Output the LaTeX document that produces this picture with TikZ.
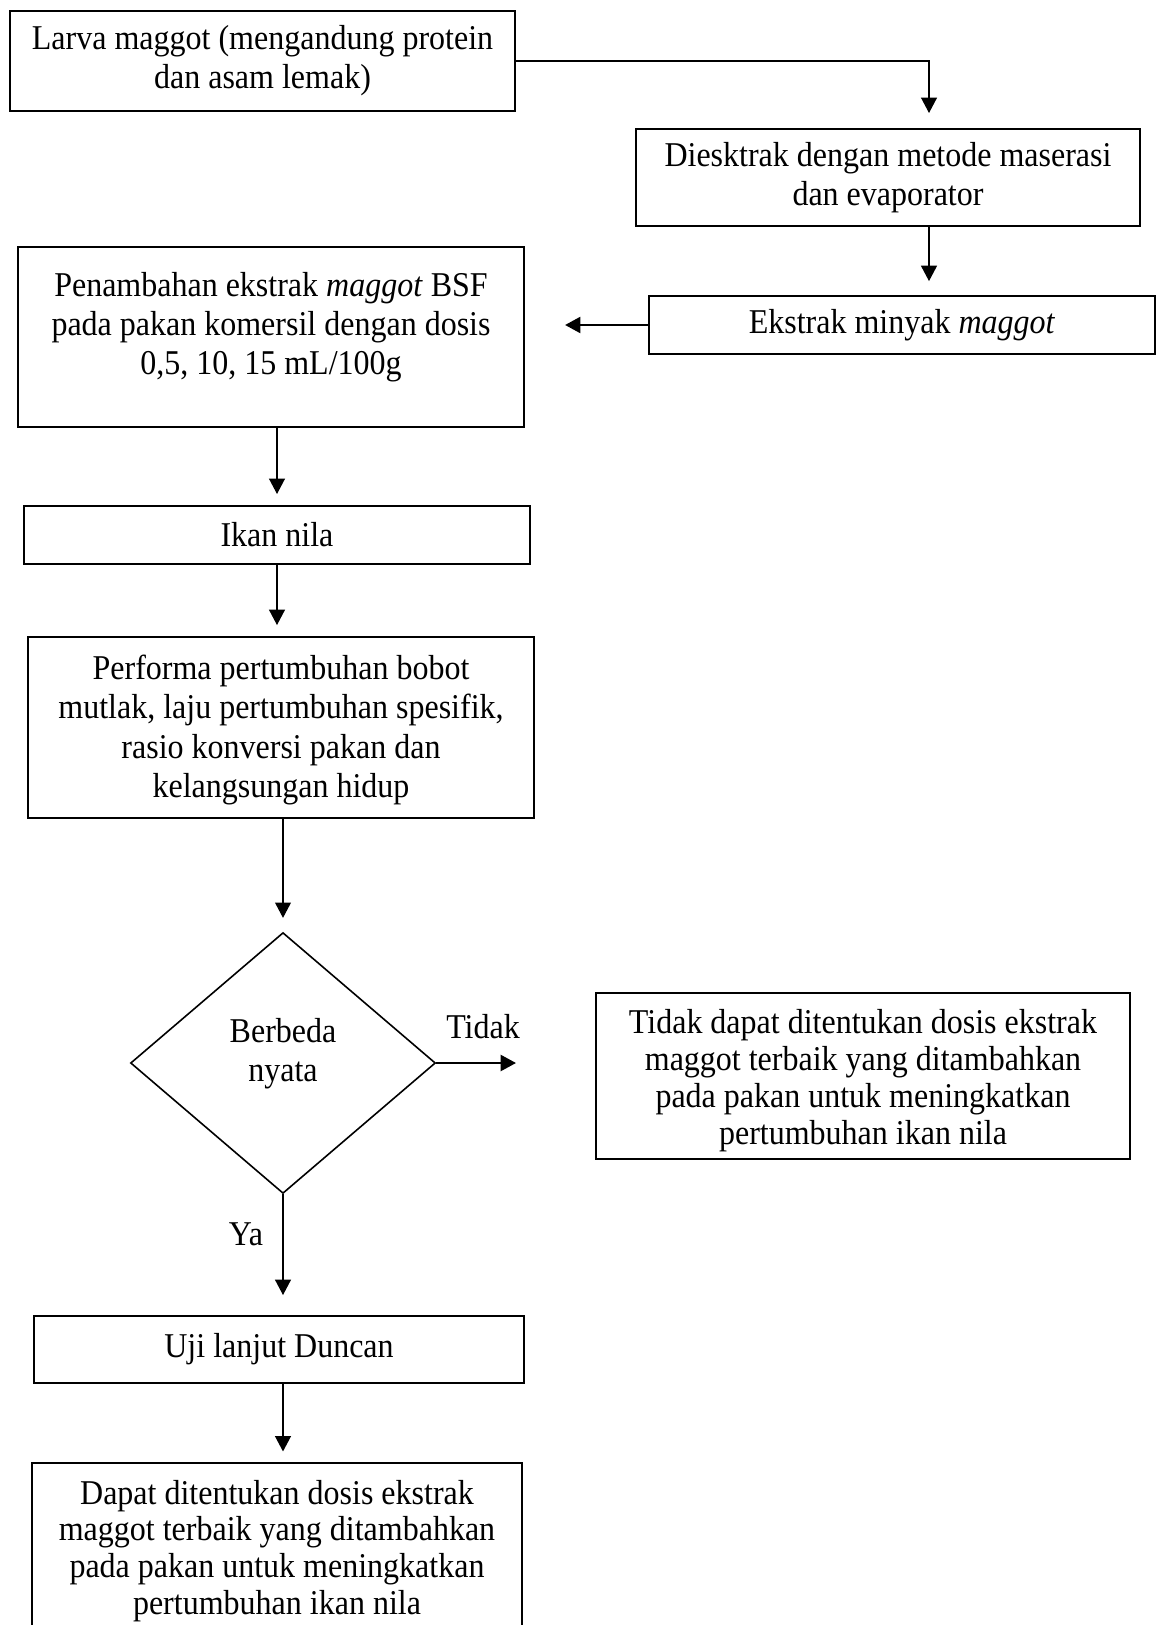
\documentclass[tikz,border=0pt]{standalone}
\usepackage{fontspec}
\setmainfont{Liberation Serif}[FakeStretch=0.92]
\usetikzlibrary{shapes.geometric,arrows.meta}
\begin{document}
\begin{tikzpicture}[x=0.345pt,y=-0.345pt,>={Triangle[length=5.3pt,width=5.5pt]},
    font=\fontsize{12pt}{13.5pt}\selectfont,
    box/.style={draw,line width=0.7pt,inner sep=0pt,align=center},
    dec/.style={draw,diamond,line width=0.55pt,inner sep=0pt,align=center,minimum width=105.2pt,minimum height=90pt},
    arr/.style={->,line width=0.4pt},
    arrthick/.style={->,line width=0.9pt}]
    \useasboundingbox (0,0) rectangle (1156,1625);
    \clip (0,0) rectangle (1156,1625);
    % boxes
    \node[box,minimum width=174.2pt,minimum height=34.5pt] (larva) at (262.5,61) {Larva maggot (mengandung protein\\dan asam lemak)};
    \node[box,minimum width=173.9pt,minimum height=33.5pt] (ekstraksi) at (888,177.5) {Diesktrak dengan metode maserasi\\dan evaporator};
    \node[box,minimum width=174.6pt,minimum height=20pt] (minyak) at (902,325) {Ekstrak minyak \textit{maggot}};
    \node[box,minimum width=174.6pt,minimum height=62.1pt] (tambah) at (271,337) {Penambahan ekstrak \textit{maggot} BSF\\pada pakan komersil dengan dosis\\0,5, 10, 15 mL/100g\rule[-9.5pt]{0pt}{0pt}};
    \node[box,minimum width=174.6pt,minimum height=20pt] (nila) at (277,535) {Ikan nila};
    \node[box,minimum width=174.6pt,minimum height=62.4pt] (performa) at (281,727.5) {\rule{0pt}{10.2pt}Performa pertumbuhan bobot\\mutlak, laju pertumbuhan spesifik,\\rasio konversi pakan dan\\kelangsungan hidup};
    \node[dec] (beda) at (283,1063) {Berbeda\\nyata\rule[-8.8pt]{0pt}{0pt}};
    \node[box,minimum width=184.2pt,minimum height=57.3pt,font=\fontsize{12pt}{12.7pt}\selectfont] (tidakbox) at (863,1076) {\rule{0pt}{11.4pt}Tidak dapat ditentukan dosis ekstrak\\maggot terbaik yang ditambahkan\\pada pakan untuk meningkatkan\\pertumbuhan ikan nila};
    \node[box,minimum width=169.1pt,minimum height=23.1pt] (uji) at (279,1349.5) {Uji lanjut Duncan};
    \node[box,minimum width=169.1pt,minimum height=60.4pt,font=\fontsize{12pt}{12.7pt}\selectfont] (dapat) at (277,1551) {Dapat ditentukan dosis ekstrak\\maggot terbaik yang ditambahkan\\pada pakan untuk meningkatkan\\pertumbuhan ikan nila};
    \node (tidaklbl) at (483,1027) {Tidak};
    \node (yalbl) at (246,1234) {Ya};
    % arrows
    \coordinate (t1) at (929,113);
    \coordinate (tdk) at (516,1063);
    \draw[arr] (larva.east) -| (t1);
    \draw[arr,shorten >=4.8pt] (ekstraksi.south -| t1) -- (minyak.north -| t1);
    \draw[arrthick,shorten >=13.8pt] (minyak.west) -- (minyak.west -| tambah.east);
    \draw[arr,shorten >=3.8pt] (tambah.south -| nila.north) -- (nila.north);
    \draw[arr,shorten >=3.8pt] (nila.south) -- (nila.south |- performa.north);
    \draw[arr,shorten >=4.8pt] (performa.south -| beda.north) -- (beda.north);
    \draw[arrthick] (beda.east) -- (tdk);
    \draw[arr,shorten >=6.9pt] (beda.south) -- (beda.south |- uji.north);
    \draw[arr,shorten >=3.8pt] (uji.south -| beda.south) -- (dapat.north -| beda.south);
\end{tikzpicture}
\end{document}
